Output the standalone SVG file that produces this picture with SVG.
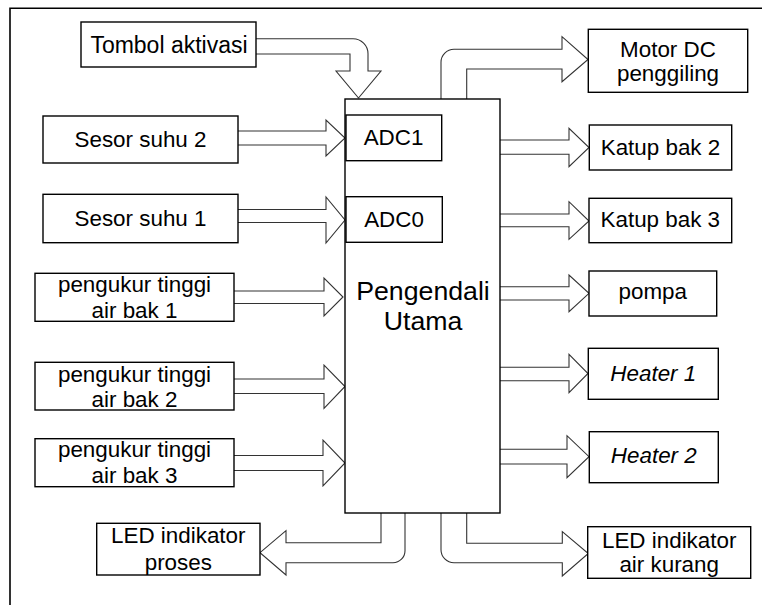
<svg xmlns="http://www.w3.org/2000/svg" width="762" height="605" viewBox="0 0 762 605">
<style>
.box{fill:#fff;stroke:#000;stroke-width:1.4}
.arr{fill:none;stroke:#333;stroke-width:1.1;stroke-linejoin:miter}
.t{font-family:"Liberation Sans",Arial,sans-serif;font-size:22.4px;fill:#000;text-anchor:middle}
.i{font-style:italic}
.big{font-size:26.7px}
.frame{fill:none;stroke:#000;stroke-width:1.6}
</style>
<rect width="762" height="605" fill="#fff"/>
<path class="frame" d="M10,605 V8.3 H762"/>
<g id="connectors">
<path class="arr" d="M238,131 H326 V120 L345,138 L326,156 V145 H238"/>
<path class="arr" d="M238,209.5 H326 V197 L345,220 L326,243 V222.5 H238"/>
<path class="arr" d="M234,291 H324 V278 L343,297 L324,316 V303.5 H234"/>
<path class="arr" d="M234,379 H324 V365 L345,386.5 L324,408.5 V393.5 H234"/>
<path class="arr" d="M234,455.5 H323 V440 L345,463 L323,486 V470.5 H234"/>
<path class="arr" d="M500,140 H569 V128.3 L589,147.5 L569,166.7 V154.3 H500"/>
<path class="arr" d="M500,214 H569 V201.7 L589,221 L569,239.3 V226.7 H500"/>
<path class="arr" d="M500,286.7 H569 V275 L589,293.3 L569,311.7 V300 H500"/>
<path class="arr" d="M500,367.3 H569 V354.3 L588,373.5 L569,392.7 V380.7 H500"/>
<path class="arr" d="M500,449.3 H567 V435.7 L589,456.7 L567,477.7 V464 H500"/>
<path class="arr" d="M441,99 V62.3 A13,13 0 0 1 454,49.3 H562 V36.7 L588,59.5 L562,81.7 V69 H466.7 V99"/>
<path class="arr" d="M256,38.7 H353 A15,15 0 0 1 368,53.7 V71 H381 L358.5,98 L336,71 H350 V54 H256"/>
<path class="arr" d="M381,513 V542.7 H286 V530.7 L260,552.7 L286,575 V562.7 H393 A12,12 0 0 0 405,550.7 V513"/>
<path class="arr" d="M466.7,513 V543.3 H562.3 V531.7 L588.3,553.5 L562.3,576 V562.7 H454 A13,13 0 0 1 441,549.7 V513"/>
</g>
<g id="main">
<rect class="box" x="345" y="99" width="155" height="414"/>
<text class="t big" x="423" y="300">Pengendali</text>
<text class="t big" x="423" y="330">Utama</text>
</g>
<g id="adc1">
<rect class="box" x="346" y="115" width="95.7" height="45.7"/>
<text class="t" x="393.5" y="145">ADC1</text>
</g>
<g id="adc0">
<rect class="box" x="346" y="196.7" width="96.3" height="45.6"/>
<text class="t" x="394" y="227">ADC0</text>
</g>
<g id="tombol">
<rect class="box" x="81" y="22" width="175" height="45"/>
<text class="t" x="169" y="53" style="font-size:23px">Tombol aktivasi</text>
</g>
<g id="sesor2">
<rect class="box" x="43" y="116" width="195" height="47"/>
<text class="t" x="140.5" y="146.7">Sesor suhu 2</text>
</g>
<g id="sesor1">
<rect class="box" x="43" y="194.3" width="195" height="48.4"/>
<text class="t" x="140.5" y="225.7">Sesor suhu 1</text>
</g>
<g id="pengukur1">
<rect class="box" x="35" y="273.3" width="199" height="48"/>
<text class="t" x="134.5" y="291.7">pengukur tinggi</text>
<text class="t" x="134.5" y="318.3">air bak 1</text>
</g>
<g id="pengukur2">
<rect class="box" x="35" y="362.3" width="199" height="47.7"/>
<text class="t" x="134.5" y="381.7">pengukur tinggi</text>
<text class="t" x="134.5" y="406.7">air bak 2</text>
</g>
<g id="pengukur3">
<rect class="box" x="35" y="438.7" width="199" height="48"/>
<text class="t" x="134.5" y="456.7">pengukur tinggi</text>
<text class="t" x="134.5" y="482.7">air bak 3</text>
</g>
<g id="ledproses">
<rect class="box" x="96.7" y="523.3" width="163.3" height="51.7"/>
<text class="t" x="178.3" y="543.3">LED indikator</text>
<text class="t" x="178.3" y="570">proses</text>
</g>
<g id="motor">
<rect class="box" x="588.3" y="29.3" width="159.4" height="63"/>
<text class="t" x="668" y="56.7">Motor DC</text>
<text class="t" x="668" y="81">penggiling</text>
</g>
<g id="katup2">
<rect class="box" x="589.3" y="125" width="142.4" height="45"/>
<text class="t" x="660.5" y="155">Katup bak 2</text>
</g>
<g id="katup3">
<rect class="box" x="589" y="198.3" width="142.7" height="44.4"/>
<text class="t" x="660.3" y="226.7">Katup bak 3</text>
</g>
<g id="pompa">
<rect class="box" x="589" y="271" width="127.7" height="45"/>
<text class="t" x="652.8" y="299">pompa</text>
</g>
<g id="heater1">
<rect class="box" x="588.3" y="348.3" width="130" height="51"/>
<text class="t i" x="653.3" y="380.7">Heater 1</text>
</g>
<g id="heater2">
<rect class="box" x="589.3" y="431.7" width="129" height="51"/>
<text class="t i" x="653.8" y="463.3">Heater 2</text>
</g>
<g id="ledair">
<rect class="box" x="587.7" y="526.7" width="163" height="51.6"/>
<text class="t" x="669.2" y="548.3">LED indikator</text>
<text class="t" x="669.2" y="571.7">air kurang</text>
</g>
</svg>
